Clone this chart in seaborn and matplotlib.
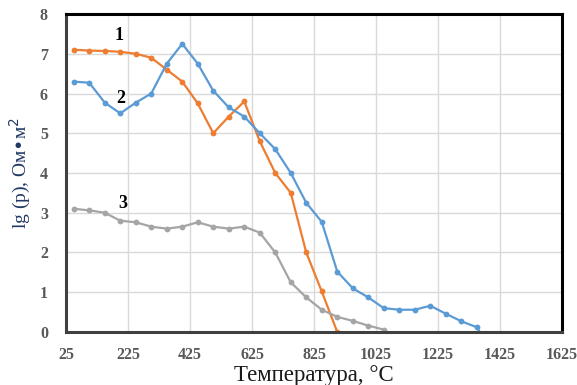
import matplotlib
matplotlib.use('Agg')
import matplotlib.pyplot as plt
import seaborn as sns
import numpy as np

# ---- data ----
temp_1 = [50, 100, 150, 200, 250, 300, 350, 400, 450, 500, 550, 600,
          650, 700, 750, 800, 850, 900]
lg_1 = [7.1, 7.08, 7.07, 7.05, 7.0, 6.9, 6.6, 6.3, 5.75, 5.0, 5.42, 5.8,
        4.8, 4.0, 3.5, 2.0, 1.02, 0.0]

temp_2 = [50, 100, 150, 200, 250, 300, 350, 400, 450, 500, 550, 600,
          650, 700, 750, 800, 850, 900, 950, 1000, 1050, 1100, 1150,
          1200, 1250, 1300, 1350, 1400]
lg_2 = [6.3, 6.27, 5.77, 5.5, 5.77, 6.0, 6.75, 7.25, 6.75, 6.07, 5.65, 5.42,
        5.0, 4.6, 4.0, 3.25, 2.77, 1.52, 1.1, 0.87, 0.6, 0.56, 0.56,
        0.66, 0.46, 0.27, 0.12, -0.5]

temp_3 = [50, 100, 150, 200, 250, 300, 350, 400, 450, 500, 550, 600,
          650, 700, 750, 800, 850, 900, 950, 1000, 1050]
lg_3 = [3.1, 3.06, 3.0, 2.8, 2.76, 2.65, 2.6, 2.65, 2.76, 2.65, 2.6, 2.65,
        2.5, 2.0, 1.25, 0.87, 0.56, 0.38, 0.28, 0.16, 0.06]

x_ticks = [25, 225, 425, 625, 825, 1025, 1225, 1425, 1625]
y_ticks = [0, 1, 2, 3, 4, 5, 6, 7, 8]

# series label: (text, x, y)
curve_labels = [("1", 196, 7.45), ("2", 200, 5.88), ("3", 208, 3.23)]

sns.set_style("white")
plt.rcParams['font.family'] = ['Liberation Serif', 'DejaVu Serif']

fig = plt.figure(figsize=(5.77, 3.85), dpi=100)
ax = fig.add_axes([0.1144, 0.1377, 0.8596, 0.8259])

colors = ['#ED7D31', '#5B9BD5', '#A5A5A5']
for xs, ys, c in [(temp_1, lg_1, colors[0]), (temp_2, lg_2, colors[1]),
                  (temp_3, lg_3, colors[2])]:
  sns.lineplot(x=xs, y=ys, ax=ax, color=c, linewidth=1.6, marker='o',
               markersize=4.2, markeredgewidth=0, sort=False)

ax.set_xlim(25, 1625)
ax.set_ylim(0, 8)
ax.set_xticks(x_ticks)
ax.set_yticks(y_ticks)
ax.grid(True, color='#D9D9D9', linewidth=1.0)
ax.set_axisbelow(True)

for lab in ax.get_xticklabels() + ax.get_yticklabels():
  lab.set_fontweight('bold')
  lab.set_color('#595959')
  lab.set_fontsize(11.5)
ax.tick_params(length=0)
ax.tick_params(axis='x', pad=11)
ax.tick_params(axis='y', pad=13)

for name in ['top', 'right']:
  ax.spines[name].set_color('black')
  ax.spines[name].set_linewidth(2.2)
for name in ['left', 'bottom']:
  ax.spines[name].set_color('#404040')
  ax.spines[name].set_linewidth(2.2)

ax.set_xlabel('Температура, °C', fontsize=16.5, color='#1a1a1a', labelpad=1)
ax.set_ylabel('lg (p), Ом•м$^2$', fontsize=14, color='#203864', labelpad=5)

for txt, tx, ty in curve_labels:
  ax.text(tx, ty, txt, fontsize=13, fontweight='bold', color='black',
          ha='center', va='center')

fig.savefig('out.png', dpi=100)
